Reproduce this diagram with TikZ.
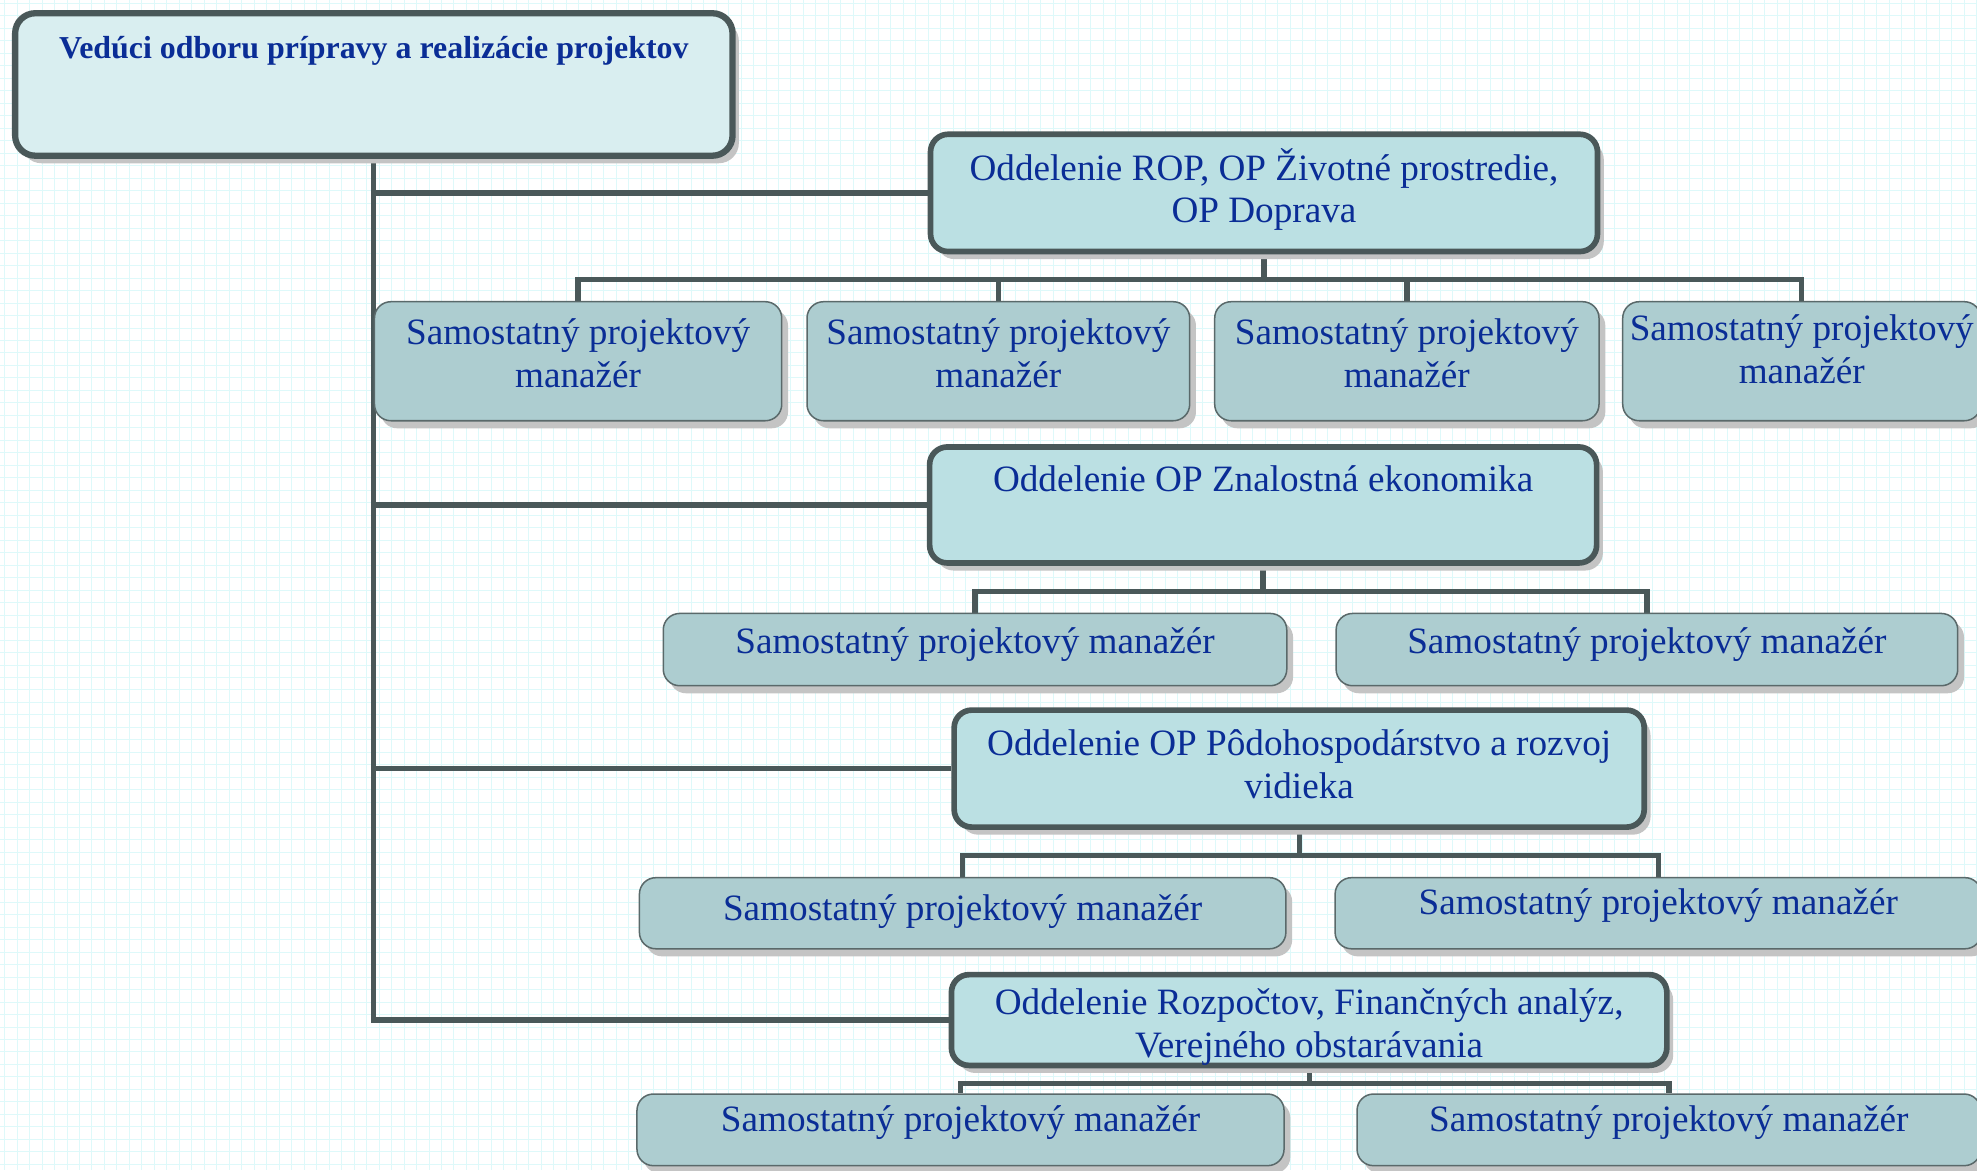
\documentclass[tikz,border=0pt]{standalone}
\usepackage{fontspec}
\setmainfont{Liberation Serif}
\usetikzlibrary{shadows,backgrounds}
\definecolor{txtblue}{RGB}{10,45,150}
\definecolor{topfill}{RGB}{217,238,240}
\definecolor{deptfill}{RGB}{187,224,227}
\definecolor{spmfill}{RGB}{173,205,208}
\definecolor{edgec}{RGB}{74,88,89}
\definecolor{thinedge}{RGB}{90,105,106}
\definecolor{shadec}{RGB}{196,196,196}
\definecolor{gridc}{RGB}{222,249,250}
\tikzset{
  shd/.style={general shadow={fill=shadec, shadow xshift=5pt, shadow yshift=-6pt}},
  topbox/.style={draw=edgec, line width=5pt, fill=topfill, rounded corners=16pt, inner sep=0pt, shd},
  deptbox/.style={draw=edgec, line width=4.5pt, fill=deptfill, rounded corners=14pt, inner sep=0pt, shd},
  spmbox/.style={draw=thinedge, line width=1.2pt, fill=spmfill, rounded corners=13pt, inner sep=0pt, shd},
  lbl/.style={text=txtblue, font=\fontsize{29.5}{34}\selectfont, align=center, inner sep=0pt, anchor=base},
  ttl/.style={text=txtblue, font=\fontsize{25.3}{30}\selectfont\bfseries, inner sep=0pt, anchor=base},
  conn/.style={draw=edgec, line width=4.2pt},
  gridln/.style={draw=gridc, line width=0.7pt},
}
\begin{document}
\begin{tikzpicture}[x=1pt,y=-1pt]
\useasboundingbox (0,0) rectangle (1568,928);
\clip (0,0) rectangle (1568,928);
% boxes
\node[topbox, minimum width=569pt, minimum height=113pt] (top) at (296.5,67) {};
\node[ttl] (ttop) at (296.5,46.3) {Vedúci odboru prípravy a realizácie projektov};

\node[deptbox, minimum width=529pt, minimum height=93pt] (d1) at (1002.5,153) {};
\node[lbl] (td1) at (1002.5,176.8) {Oddelenie ROP, OP Životné prostredie,\\OP Doprava};
\node[spmbox, minimum width=323pt, minimum height=94.4pt] (c11) at (458.5,286.5) {};
\node[spmbox, minimum width=303.5pt, minimum height=94.4pt] (c12) at (791.8,286.5) {};
\node[spmbox, minimum width=304.8pt, minimum height=94.4pt] (c13) at (1115.8,286.5) {};
\node[spmbox, minimum width=284pt, minimum height=94.4pt] (c14) at (1429,286.5) {};
\node[lbl] (t11) at (458.5,307.6) {Samostatný projektový\\manažér};
\node[lbl] (t12) at (791.8,307.6) {Samostatný projektový\\manažér};
\node[lbl] (t13) at (1115.8,307.6) {Samostatný projektový\\manažér};
\node[lbl] (t14) at (1429,304) {Samostatný projektový\\manažér};

\node[deptbox, minimum width=529pt, minimum height=92pt] (d2) at (1001.8,400.5) {};
\node[lbl] (td2) at (1001.8,390) {Oddelenie OP Znalostná ekonomika};
\node[spmbox, minimum width=494.5pt, minimum height=57.3pt] (c21) at (773.3,515.2) {};
\node[spmbox, minimum width=493pt, minimum height=57.3pt] (c22) at (1306.2,515.2) {};
\node[lbl] (t21) at (773.3,518.2) {Samostatný projektový manažér};
\node[lbl] (t22) at (1306.2,518.2) {Samostatný projektový manažér};

\node[deptbox, minimum width=547.3pt, minimum height=92.8pt] (d3) at (1030.4,609.6) {};
\node[lbl] (td3) at (1030.4,633.5) {Oddelenie OP Pôdohospodárstvo a rozvoj\\vidieka};
\node[spmbox, minimum width=512.7pt, minimum height=56.4pt] (c31) at (763.5,724.3) {};
\node[spmbox, minimum width=512.6pt, minimum height=56.4pt] (c32) at (1315.2,724.3) {};
\node[lbl] (t31) at (763.5,729.7) {Samostatný projektový manažér};
\node[lbl] (t32) at (1315.2,725) {Samostatný projektový manažér};

\node[deptbox, minimum width=567.4pt, minimum height=72pt] (d4) at (1038.3,809) {};
\node[lbl] (td4) at (1038.3,838.5) {Oddelenie Rozpočtov, Finančných analýz,\\Verejného obstarávania};
\node[spmbox, minimum width=513.2pt, minimum height=56.8pt] (c41) at (761.8,896.1) {};
\node[spmbox, minimum width=494.6pt, minimum height=56.8pt] (c42) at (1323.6,896.1) {};
\node[lbl] (t41) at (761.8,897.6) {Samostatný projektový manažér};
\node[lbl] (t42) at (1323.6,897.6) {Samostatný projektový manažér};

\begin{pgfonlayer}{background}
  \fill[white] (0,0) rectangle (1568,928);
  \foreach \i in {0,...,158} \draw[gridln] ({3.6+9.9*\i},0) -- ({3.6+9.9*\i},928);
  \foreach \j in {0,...,94} \draw[gridln] (0,{2.7+9.9*\j}) -- (1568,{2.7+9.9*\j});
  \draw[conn] (top.south) |- (d4.west);
  \draw[conn] (top.south |- d1.west) -- (d1.west);
  \draw[conn] (top.south |- d2.west) -- (d2.west);
  \draw[conn] (top.south |- d3.west) -- (d3.west);
  \foreach \c in {c11,c12,c13,c14} \draw[conn] (d1.south) -- ++(0,20) -| (\c.north);
  \foreach \c in {c21,c22} \draw[conn] (d2.south) -- ++(0,20.5) -| (\c.north);
  \foreach \c in {c31,c32} \draw[conn] (d3.south) -- ++(0,20.2) -| (\c.north);
  \foreach \c in {c41,c42} \draw[conn] (d4.south) -- ++(0,12) -| (\c.north);
\end{pgfonlayer}
\end{tikzpicture}
\end{document}
